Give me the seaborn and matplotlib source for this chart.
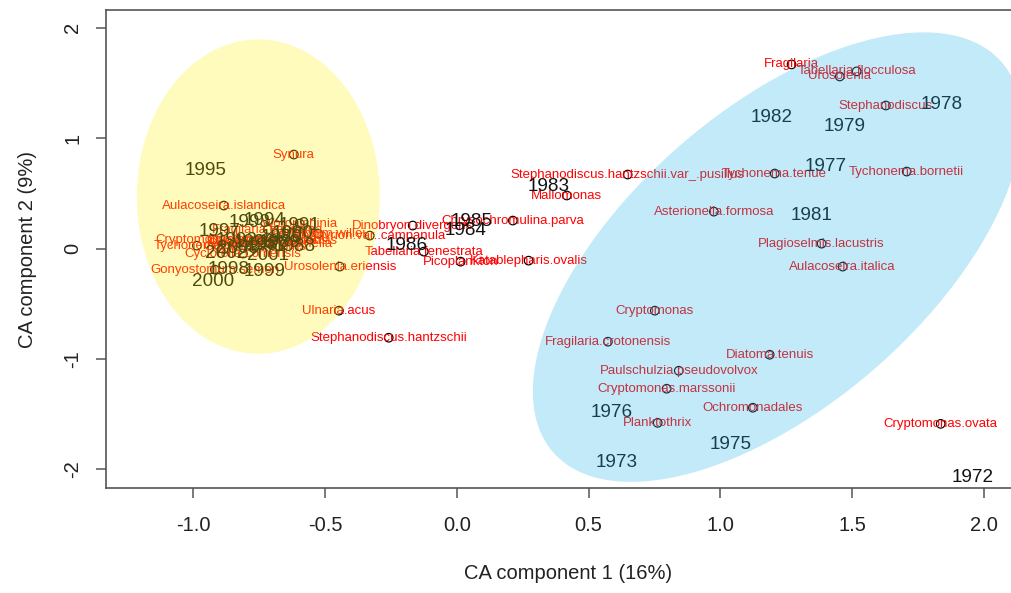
import numpy as np
import pandas as pd
import matplotlib
matplotlib.use("Agg")
import matplotlib.pyplot as plt
import seaborn as sns

# Species scores on the first two CA axes
species = [
    "Fragilaria", "Tabellaria.flocculosa", "Urosolenia", "Stephanodiscus",
    "Tychonema.tenue", "Tychonema.bornetii", "Asterionella.formosa",
    "Plagioselmis.lacustris", "Aulacoseira.italica",
    "Stephanodiscus.hantzschii.var_.pusillus", "Mallomonas",
    "Chrysochromulina.parva", "Katablepharis.ovalis", "Picoplankton",
    "Tabellaria.fenestrata", "Dinobryon.divergens", "Synura",
    "Aulacoseira.islandica", "Ulnaria.acus", "Stephanodiscus.hantzschii",
    "Urosolenia.eriensis", "Cryptomonas", "Fragilaria.crotonensis",
    "Diatoma.tenuis", "Paulschulzia.pseudovolvox", "Cryptomonas.marssonii",
    "Ochromonadales", "Planktothrix", "Cryptomonas.ovata",
    "Cryptomonas.erosa", "Tychonema.sp", "Cyclotella.comensis",
    "Fragilaria.capucina", "Woronichinia", "Gonyostomum.semen",
    "Kephyrion.var..campanula", "Cyclotella.lemanensis", "Peridinium.willei",
    "Ceratium.hirundinella", "Oocystis.lacustris", "Chroomonas.acuta",
]
species_x = [
    1.270, 1.517, 1.453, 1.628,
    1.206, 1.707, 0.975,
    1.384, 1.464,
    0.648, 0.417,
    0.212, 0.272, 0.014,
    -0.126, -0.168, -0.619,
    -0.885, -0.448, -0.259,
    -0.445, 0.751, 0.573,
    1.187, 0.842, 0.796,
    1.123, 0.762, 1.836,
    -0.927, -0.987, -0.812,
    -0.718, -0.597, -0.919,
    -0.331, -0.695, -0.527,
    -0.710, -0.768, -0.740,
]
species_y = [
    1.668, 1.605, 1.559, 1.296,
    0.680, 0.698, 0.335,
    0.045, -0.163,
    0.671, 0.481,
    0.254, -0.109, -0.118,
    -0.027, 0.209, 0.852,
    0.390, -0.562, -0.807,
    -0.163, -0.562, -0.843,
    -0.961, -1.106, -1.269,
    -1.441, -1.578, -1.587,
    0.082, 0.027, -0.045,
    0.172, 0.227, -0.190,
    0.118, 0.073, 0.136,
    0.045, 0.018, 0.082,
]

# Site (year) scores
years = [
    "1972", "1973", "1975", "1976", "1977", "1978", "1979", "1981", "1982",
    "1983", "1984", "1985", "1986", "1995", "1994", "1993", "1991", "1990",
    "1980", "1997", "1992", "1996", "1987", "1989", "1988", "2003", "2002",
    "2001", "1998", "1999", "2000",
]
year_x = [
    1.957, 0.606, 1.039, 0.587, 1.399, 1.840, 1.472, 1.346, 1.194,
    0.348, 0.033, 0.056, -0.190, -0.953, -0.729, -0.786, -0.597, -0.624,
    -0.665, -0.900, -0.836, -0.768, -0.718, -0.672, -0.615, -0.831, -0.877,
    -0.718, -0.866, -0.729, -0.927,
]
year_y = [
    -2.076, -1.940, -1.777, -1.487, 0.743, 1.305, 1.106, 0.299, 1.188,
    0.562, 0.163, 0.245, 0.027, 0.707, 0.254, 0.236, 0.209, 0.136,
    0.100, 0.154, 0.073, 0.054, 0.027, 0.054, 0.018, 0.000, -0.045,
    -0.063, -0.190, -0.209, -0.299,
]

# Group ellipses: centre and shape (covariance-like) matrix in CA units
group_names = ["recent", "early"]
group_colors = ["#FFF200", "#26B6E8"]
group_alphas = [0.26, 0.28]
group_center_x = [-0.754, 1.216]
group_center_y = [0.471, -0.077]
group_var_x = [0.2125, 0.861]
group_var_y = [2.026, 4.143]
group_cov_xy = [0.0, 1.1304]

x_ticks = [-1.0, -0.5, 0.0, 0.5, 1.0, 1.5, 2.0]
x_tick_labels = ["-1.0", "-0.5", "0.0", "0.5", "1.0", "1.5", "2.0"]
y_ticks = [-2, -1, 0, 1, 2]
y_tick_labels = ["-2", "-1", "0", "1", "2"]

sns.set_theme(style="white")
plt.rcParams["font.family"] = ["Liberation Sans", "DejaVu Sans"]
plt.rcParams["axes.unicode_minus"] = False

fig = plt.figure(figsize=(10.12, 5.93), dpi=100)
ax = fig.add_axes([106 / 1012, 1 - 488 / 593, (1030 - 106) / 1012, (488 - 10) / 593])

sp = pd.DataFrame({"species": species, "x": species_x, "y": species_y})
sns.scatterplot(data=sp, x="x", y="y", ax=ax, marker="o", s=38,
                facecolors="none", edgecolor="black", linewidth=0.85,
                zorder=2, legend=False)

for name, x, y in zip(species, species_x, species_y):
    ax.text(x, y, name, color="#FF0000", fontsize=9.5, ha="center",
            va="center", zorder=3)

for name, x, y in zip(years, year_x, year_y):
    ax.text(x, y, name, color="#111111", fontsize=13.6, ha="center",
            va="center", zorder=3)

# Translucent group ellipses laid over the scores
t = np.linspace(0, 2 * np.pi, 400)
circle = np.vstack([np.cos(t), np.sin(t)])
for i in range(len(group_names)):
    shape = np.array([[group_var_x[i], group_cov_xy[i]],
                      [group_cov_xy[i], group_var_y[i]]])
    L = np.linalg.cholesky(shape)
    pts = L @ circle
    ax.fill(group_center_x[i] + pts[0], group_center_y[i] + pts[1],
            color=group_colors[i], alpha=group_alphas[i], lw=0, zorder=4)

ax.set_xlim(-1.332, 2.175)
ax.set_ylim(-2.168, 2.161)
ax.set_xticks(x_ticks)
ax.set_xticklabels(x_tick_labels)
ax.set_yticks(y_ticks)
ax.set_yticklabels(y_tick_labels, rotation=90, va="center")

for side in ["left", "bottom", "top", "right"]:
    ax.spines[side].set_color("#555555")
    ax.spines[side].set_linewidth(1.2)

ax.tick_params(axis="both", which="major", direction="out", length=7,
               width=1.1, color="#555555", labelsize=14.5, labelcolor="#222222",
               bottom=True, left=True)
ax.tick_params(axis="x", pad=13)
ax.tick_params(axis="y", pad=10)

ax.set_xlabel("CA component 1 (16%)", fontsize=14.5, color="#222222", labelpad=21)
ax.set_ylabel("CA component 2 (9%)", fontsize=14.5, color="#222222", labelpad=19)

fig.savefig("out.png", dpi=100)
